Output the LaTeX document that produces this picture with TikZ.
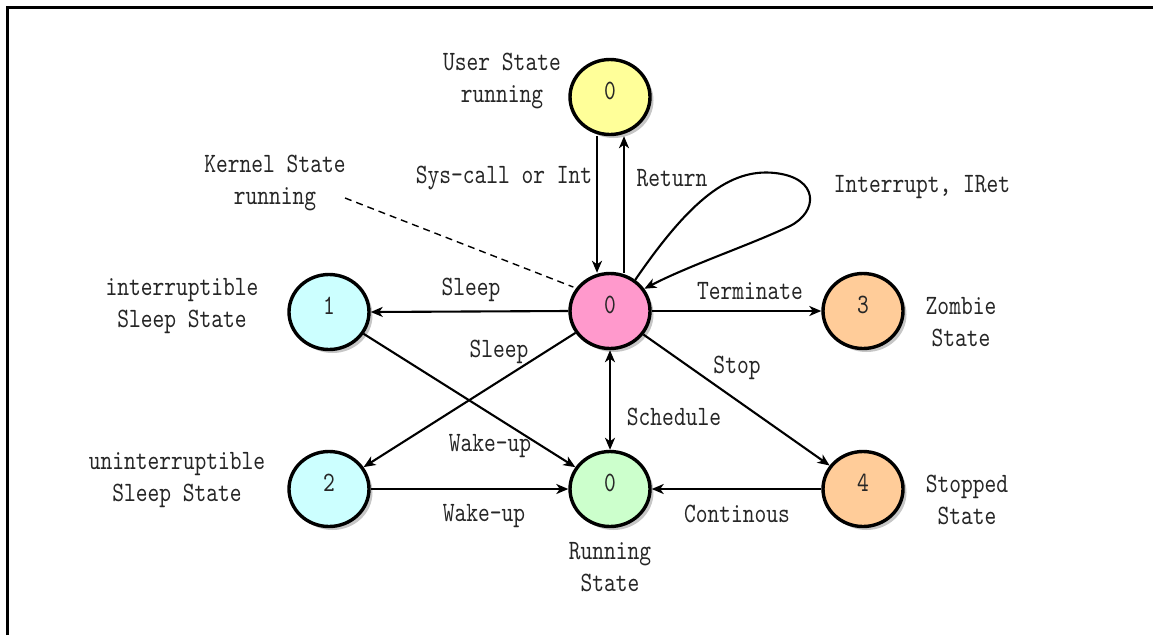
\documentclass[tikz,border=0pt]{standalone}
\usepackage{fontspec}
\newfontfamily\labfont{lmmono10-regular.otf}[FakeStretch=0.8]
\usetikzlibrary{arrows.meta,shapes.geometric,shadows}
\definecolor{cyel}{HTML}{FFFF99}
\definecolor{cpink}{HTML}{FF99CC}
\definecolor{ccyan}{HTML}{CCFFFF}
\definecolor{cgreen}{HTML}{CCFFCC}
\definecolor{corange}{HTML}{FFCC99}
\begin{document}
\begin{tikzpicture}[x=1pt,y=-1pt,
  lab/.style={font=\labfont\fontsize{28}{32}\selectfont, inner sep=0pt, align=center, text=black!85},
  state/.style={ellipse, draw, line width=3.4pt, minimum width=80pt, minimum height=75pt, inner sep=0pt,
     drop shadow={shadow xshift=3.5pt, shadow yshift=-3.5pt, fill=gray!45, opacity=1}},
  arr/.style={line width=2.1pt, -{Stealth[length=12pt,width=10pt,inset=3.5pt]}},
  darr/.style={line width=2.1pt, {Stealth[length=12pt,width=10pt,inset=3.5pt]}-{Stealth[length=12pt,width=10pt,inset=3.5pt]}}
]
\useasboundingbox (0,0) rectangle (1153,635);
% frame
\draw[line width=3pt] (7.5,635) -- (7.5,7.5) -- (1153,7.5);

% states
\node[state, fill=cyel]    (top)   at (610,97)  {};
\node[state, fill=cpink]   (pink)  at (610,311) {};
\node[state, fill=ccyan]   (n1)    at (329,312) {};
\node[state, fill=ccyan]   (n2)    at (329,489) {};
\node[state, fill=cgreen]  (green) at (610,489) {};
\node[state, fill=corange] (n3)    at (863,311) {};
\node[state, fill=corange] (n4)    at (863,489) {};

\foreach \n/\t in {top/0, pink/0, n1/1, n2/2, green/0, n3/3, n4/4}
  \node[lab] (d\n) at ([yshift=6pt]\n.center) {\t};

% connectors
\draw[arr] ([xshift=-13pt]top.south) -- ([xshift=-13pt,yshift=-1pt]pink.north);
\draw[arr] ([xshift=14pt,yshift=-1pt]pink.north) -- ([xshift=14pt]top.south);
\draw[arr] (pink.51) .. controls (690,200) and (730,168) .. (775,173)
   .. controls (820,178) and (818,212) .. (790,226)
   .. controls (750,245) and (690,265) .. (pink.33);
\draw[arr] (pink.west) -- (n1.east);
\draw[arr] (n1) -- (green);
\draw[arr] (pink) -- (n2);
\draw[arr] (n2.east) -- (green.west);
\draw[darr] (pink) -- (green);
\draw[arr] (pink.east) -- (n3.west);
\draw[arr] (pink) -- (n4);
\draw[arr] (n4.west) -- (green.east);

\coordinate (kd) at (345,198);
\draw[line width=1.4pt, dash pattern=on 7pt off 5pt, shorten >=3pt] (kd) -- (pink.146);

% labels
\node[lab] (lu) at (502,81) {User State\\running};
\node[lab] (lk) at (275,183) {Kernel State\\running};
\node[lab] (lsys) at (504,178) {Sys-call or Int};
\node[lab] (lret) at (672,178) {Return};
\node[lab] (lint) at (922,187) {Interrupt, IRet};
\node[lab] (ls1) at (471,290) {Sleep};
\node[lab] (ls2) at (499,352) {Sleep};
\node[lab] (lterm) at (750,291) {Terminate};
\node[lab] (lzom) at (961,322) {Zombie\\State};
\node[lab] (lstop) at (737,368) {Stop};
\node[lab] (lsch) at (674,417) {Schedule};
\node[lab] (lw1) at (490,446) {Wake-up};
\node[lab] (lw2) at (484,516) {Wake-up};
\node[lab] (lcon) at (737,514) {Continous};
\node[lab] (lstp) at (967,500) {Stopped\\State};
\node[lab] (lis) at (182,306) {interruptible\\Sleep State};
\node[lab] (lus) at (177,480) {uninterruptible\\Sleep State};
\node[lab] (lrun) at (610,567) {Running\\State};
\end{tikzpicture}
\end{document}
